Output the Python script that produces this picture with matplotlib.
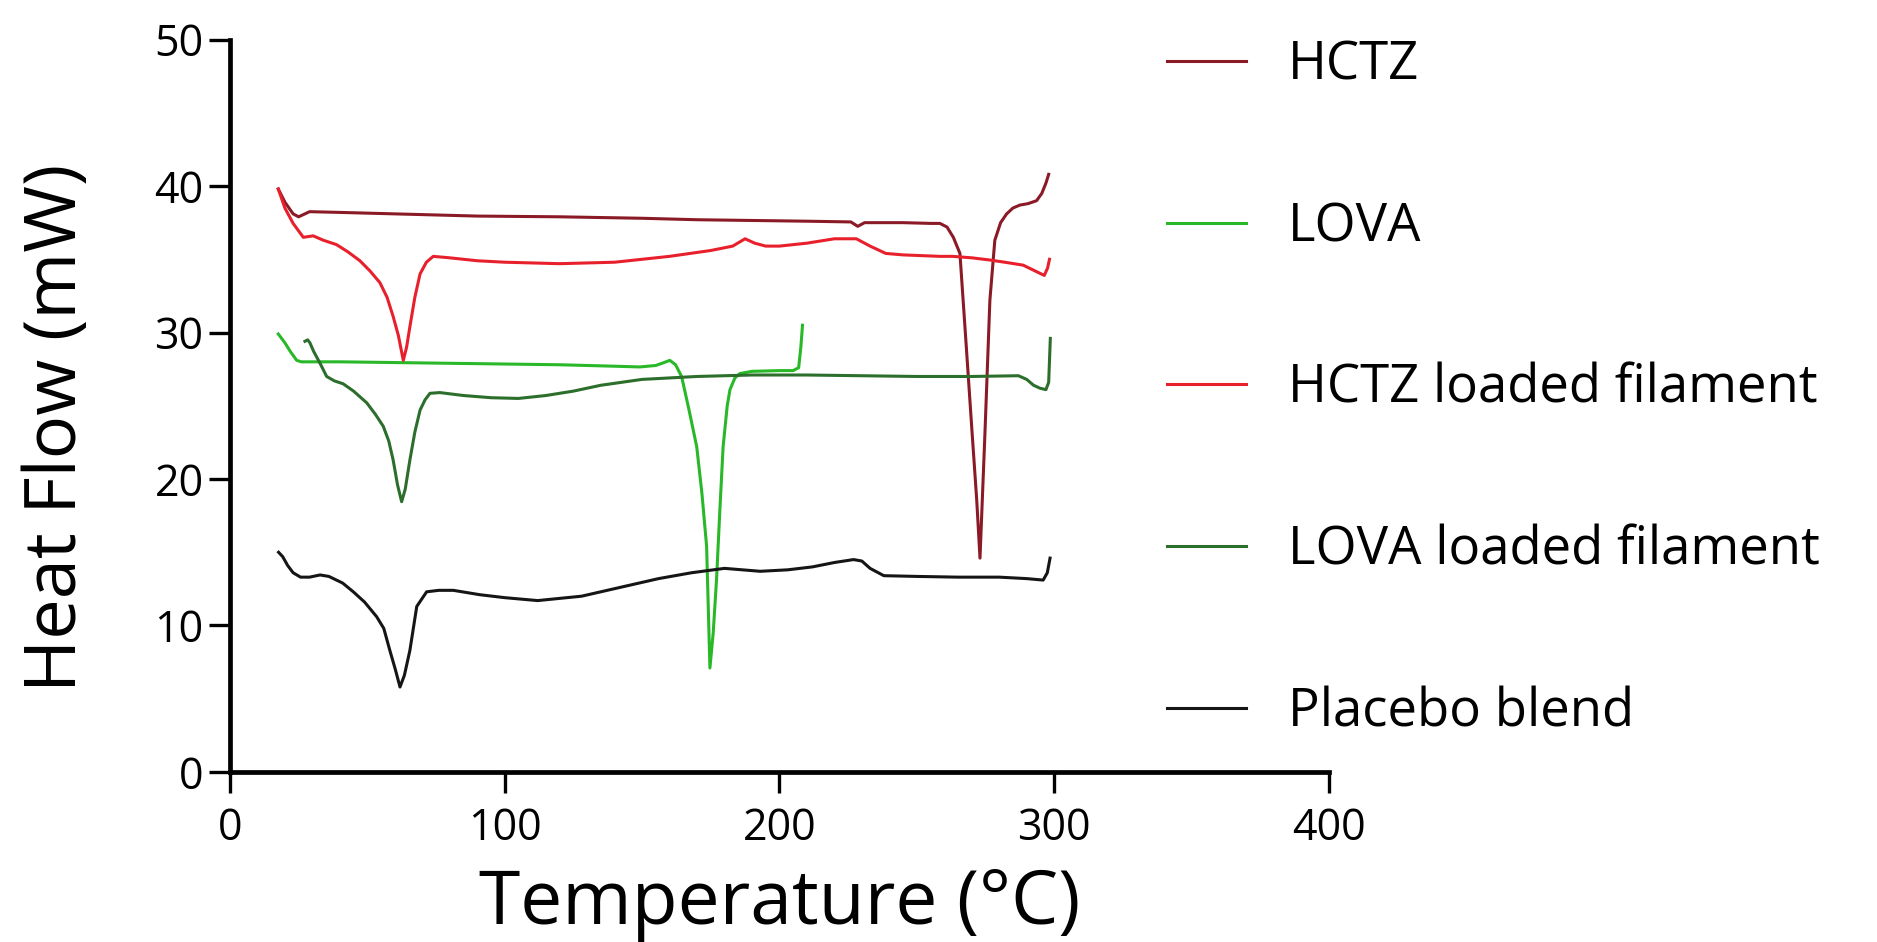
import matplotlib
matplotlib.use("Agg")
import matplotlib.pyplot as plt

plt.rcParams['font.family'] = ['Open Sans', 'DejaVu Sans']

# DSC thermograms (temperature in C, heat flow in mW)
hctz_t = [17.6, 20, 23, 25, 29, 40, 60, 90, 120, 150, 170, 190, 210, 226, 228.5, 231,
          245, 255, 258.4, 261, 263.3, 265.7, 268.1, 270, 271.8, 273, 274.8, 276.6,
          278.4, 280.5, 282.7, 285, 287.5, 290.5, 293.6, 295.5, 297, 298]
hctz_hf = [39.8, 38.9, 38.1, 37.9, 38.25, 38.2, 38.1, 37.95, 37.9, 37.8, 37.7, 37.65,
           37.6, 37.55, 37.25, 37.5, 37.5, 37.45, 37.45, 37.2, 36.5, 35.4, 28.8, 23.5,
           18.6, 14.6, 23.1, 32.2, 36.3, 37.5, 38.1, 38.5, 38.7, 38.8, 39.0, 39.5, 40.2, 40.8]

hctz_fil_t = [17.6, 20, 23, 26.7, 30.3, 34, 38.8, 43, 47.3, 51, 54.6, 57.2, 59.4, 61.3,
              63.1, 64.3, 65.5, 67.3, 69.2, 71.5, 74, 80, 90, 100, 120, 140, 160, 175,
              183, 187.5, 191, 195, 200, 210, 220, 228, 233, 238.7, 245, 258.4, 263,
              270, 276.6, 282, 288.7, 292, 296.4, 297.6, 298.3]
hctz_fil_hf = [39.8, 38.5, 37.45, 36.5, 36.6, 36.3, 36.0, 35.5, 34.9, 34.2, 33.4, 32.4,
               31.1, 29.8, 28.1, 29.0, 30.4, 32.4, 34.0, 34.8, 35.2, 35.1, 34.9, 34.8,
               34.7, 34.8, 35.2, 35.6, 35.9, 36.4, 36.1, 35.9, 35.9, 36.1, 36.4, 36.4,
               35.9, 35.4, 35.3, 35.2, 35.2, 35.1, 34.95, 34.8, 34.6, 34.3, 33.9, 34.4, 35.0]

lova_t = [17.6, 20, 22, 24.3, 26, 29.1, 40, 60, 80, 100, 120, 140, 149.2, 155, 158,
          160.1, 162.2, 164.4, 167, 169.9, 171.8, 173.5, 174.7, 175.9, 177.1, 178.3,
          179.5, 181, 182, 183.8, 185.6, 190, 200, 205, 207, 207.8, 208.4]
lova_hf = [29.9, 29.3, 28.7, 28.1, 28.0, 28.0, 28.0, 27.95, 27.9, 27.85, 27.8, 27.7,
           27.65, 27.75, 27.95, 28.1, 27.8, 27.0, 24.8, 22.2, 19.0, 15.4, 7.1, 9.5, 13.1,
           17.8, 22.2, 25.0, 26.1, 26.9, 27.2, 27.35, 27.4, 27.4, 27.6, 29.0, 30.5]

lova_fil_t = [27.3, 28.3, 29.1, 30.5, 32.8, 35.2, 38, 41.2, 45, 49.8, 53, 55.8, 57.8,
              59.4, 61, 62.5, 63.8, 65.5, 67.3, 69.2, 71, 72.8, 76.4, 85, 95, 105, 115,
              125, 135, 150, 170, 190, 210, 230, 250, 270, 287, 290, 292.5, 294.8, 297,
              298, 298.6]
lova_fil_hf = [29.4, 29.5, 29.3, 28.7, 27.9, 27.0, 26.7, 26.5, 26.0, 25.2, 24.4, 23.6,
               22.6, 21.3, 19.6, 18.45, 19.3, 21.3, 23.2, 24.7, 25.4, 25.85, 25.9, 25.7,
               25.55, 25.5, 25.7, 26.0, 26.4, 26.8, 27.0, 27.1, 27.1, 27.05, 27.0, 27.0,
               27.05, 26.8, 26.4, 26.2, 26.1, 26.6, 29.6]

placebo_t = [17.7, 19.2, 21, 23, 25.7, 29, 32.8, 36, 41, 44.9, 49, 53.4, 56, 58.2, 60.2,
             61.9, 63.5, 65.5, 68, 71.6, 76, 81.3, 91, 100, 112, 128, 142, 156, 168, 180,
             193, 203, 212, 220, 227, 230, 233, 238, 250, 265, 280, 290, 296, 297.5, 298.5]
placebo_hf = [15.0, 14.7, 14.1, 13.6, 13.3, 13.3, 13.45, 13.35, 12.9, 12.3, 11.6, 10.6,
              9.8, 8.3, 7.0, 5.8, 6.6, 8.3, 11.3, 12.3, 12.4, 12.4, 12.1, 11.9, 11.7, 12.0,
              12.6, 13.2, 13.6, 13.9, 13.7, 13.8, 14.0, 14.3, 14.5, 14.4, 13.9, 13.4, 13.35,
              13.3, 13.3, 13.2, 13.1, 13.6, 14.6]

series = [
    ("HCTZ", hctz_t, hctz_hf, "#8a1a26"),
    ("LOVA", lova_t, lova_hf, "#28b828"),
    ("HCTZ loaded filament", hctz_fil_t, hctz_fil_hf, "#e8202c"),
    ("LOVA loaded filament", lova_fil_t, lova_fil_hf, "#2c6e2c"),
    ("Placebo blend", placebo_t, placebo_hf, "#151515"),
]

fig = plt.figure(figsize=(18.77, 9.42), dpi=100)
ax = fig.add_axes([0.1225, 0.1805, 0.5855, 0.7775])

for label, t, hf, color in series:
    ax.plot(t, hf, color=color, lw=2.2, label=label)

ax.set_xlim(0, 400)
ax.set_ylim(0, 50)
ax.set_xticks([0, 100, 200, 300, 400])
ax.set_yticks([0, 10, 20, 30, 40, 50])

for side in ['top', 'right']:
    ax.spines[side].set_visible(False)
for side in ['left', 'bottom']:
    ax.spines[side].set_linewidth(3.4)

ax.tick_params(axis='both', length=15, width=2.4, labelsize=31, color='black')
ax.tick_params(axis='x', pad=10)
ax.tick_params(axis='y', pad=4)

ax.set_xlabel('Temperature (°C)', fontsize=54)
ax.set_ylabel('Heat Flow (mW)', fontsize=52)
ax.xaxis.set_label_coords(0.5, -0.13)
ax.yaxis.set_label_coords(-0.125, 0.47)

ax.legend(loc='center left', bbox_to_anchor=(0.6217, 0.587), bbox_transform=fig.transFigure,
          frameon=False, fontsize=38, handlelength=1.5, handletextpad=0.8,
          labelspacing=2.05, borderpad=0, borderaxespad=0)

fig.savefig('out.png', dpi=100)
